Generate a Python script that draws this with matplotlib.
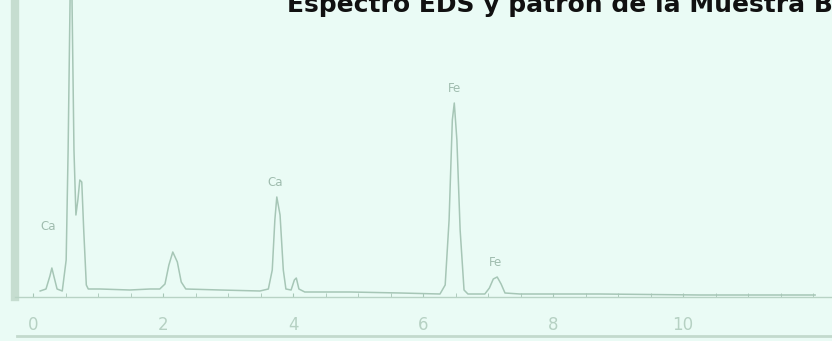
import matplotlib
matplotlib.use("Agg")
from matplotlib import pyplot as plt
from matplotlib.lines import Line2D
import numpy as np

# EDS spectrum (energy in keV, counts in arbitrary units)
energy_kev = [0.11, 0.20, 0.26, 0.29, 0.32, 0.37, 0.45, 0.51, 0.54, 0.57,
              0.585, 0.60, 0.63, 0.66, 0.69, 0.72, 0.75, 0.78, 0.82, 0.85,
              1.03, 1.49, 1.80, 1.95, 2.03, 2.09, 2.15, 2.22, 2.28, 2.35,
              2.88, 3.49, 3.62, 3.68, 3.72, 3.75, 3.80, 3.85, 3.89, 3.97,
              4.02, 4.05, 4.09, 4.18, 4.88, 5.65, 6.26, 6.34, 6.40, 6.45,
              6.48, 6.52, 6.57, 6.63, 6.69, 6.95, 7.02, 7.08, 7.14, 7.20,
              7.26, 7.49, 8.72, 10.26, 11.80, 12.03]
counts = [4, 6, 19, 27, 19, 6, 4, 35, 145, 295,
          335, 295, 145, 80, 95, 115, 113, 65, 10, 6,
          6, 5, 6, 6, 11, 30, 43, 33, 13, 6,
          5, 4, 6, 25, 75, 98, 80, 25, 6, 5,
          15, 17, 6, 3, 3, 2, 1, 10, 75, 175,
          192, 155, 65, 5, 1, 1, 7, 16, 18, 11,
          2, 1, 1, 0, 0, 0]

peak_labels = ["Ca", "Ca", "Fe", "Fe"]
label_x = [0.23, 3.72, 6.49, 7.11]
label_y = [69, 113, 207, 33]

tick_pos = [0, 2, 4, 6, 8, 10]
tick_text = ["0", "2", "4", "6", "8", "10"]

bg = "#eafbf5"
ink = "#a6c6b6"

fig = plt.figure(figsize=(8.32, 3.41), dpi=100, facecolor=bg)
ax = fig.add_axes([15 / 832, 44 / 341, 1 - 15 / 832, 1 - 44 / 341])
ax.set_facecolor(bg)
ax.set_xlim(-0.277, 12.29)
ax.set_ylim(-2, 295)

ax.plot(energy_kev, counts, color=ink, lw=1.1)

for t, x, y in zip(peak_labels, label_x, label_y):
    ax.text(x, y, t, color="#9fbcae", fontsize=8.5, ha="center", va="center")

ax.set_xticks(tick_pos)
ax.set_xticklabels(tick_text)
ax.set_xticks(np.arange(0, 12.2, 0.5), minor=True)
ax.tick_params(axis="x", which="both", direction="in", length=3,
               color=ink, labelcolor="#b6d1c3", labelsize=12, pad=14)
ax.set_yticks([])

for s in ["top", "right"]:
    ax.spines[s].set_visible(False)
ax.spines["bottom"].set_color("#b8d3c5")
ax.spines["bottom"].set_linewidth(1.0)
ax.spines["left"].set_color("#c6ddd0")
ax.spines["left"].set_linewidth(6)

# scan edge at the bottom
fig.add_artist(Line2D([0.02, 1.0], [5 / 341, 5 / 341], transform=fig.transFigure,
                      color="#c3dacd", lw=2))

# title, cut off by the top of the scan
fig.text(0.345, 1 - 12 / 341, "Espectro EDS y patrón de la Muestra B,",
         fontsize=18, fontweight="bold", color="#111111", ha="left", va="baseline")

fig.savefig("out.png", dpi=100, facecolor=bg)
